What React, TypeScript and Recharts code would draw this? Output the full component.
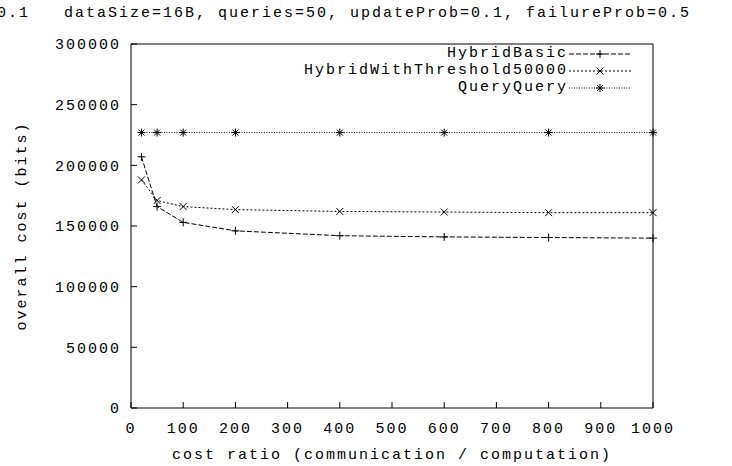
import { LineChart, Line, XAxis, YAxis, Legend } from 'recharts'

const COST_RATIO = [20, 50, 100, 200, 400, 600, 800, 1000]
const HYBRID_BASIC = [207000, 166000, 153000, 146000, 142000, 141000, 140500, 140000]
const HYBRID_THRESHOLD = [188000, 171000, 166000, 163500, 162000, 161500, 161000, 161000]
const QUERY_QUERY = [227000, 227000, 227000, 227000, 227000, 227000, 227000, 227000]

const X_TICKS = [0, 100, 200, 300, 400, 500, 600, 700, 800, 900, 1000]
const Y_TICKS = [0, 50000, 100000, 150000, 200000, 250000, 300000]

const DATA = COST_RATIO.map((x, i) => ({
  x,
  basic: HYBRID_BASIC[i],
  threshold: HYBRID_THRESHOLD[i],
  query: QUERY_QUERY[i],
}))

const FONT = '"Liberation Mono", "DejaVu Sans Mono", monospace'
const INK = '#000'
const TEXT = { fontFamily: FONT, fontSize: 15, letterSpacing: 2 }

type P = { cx?: number; cy?: number }

function Plus({ cx = 0, cy = 0 }: P) {
  return <path d={`M${cx - 4},${cy}h8M${cx},${cy - 4}v8`} stroke={INK} strokeWidth={1} fill="none" />
}
function Cross({ cx = 0, cy = 0 }: P) {
  return <path d={`M${cx - 3.5},${cy - 3.5}l7,7M${cx - 3.5},${cy + 3.5}l7,-7`} stroke={INK} strokeWidth={1} fill="none" />
}
function Star({ cx = 0, cy = 0 }: P) {
  return (
    <path
      d={`M${cx - 4},${cy}h8M${cx},${cy - 4}v8M${cx - 3},${cy - 3}l6,6M${cx - 3},${cy + 3}l6,-6`}
      stroke={INK} strokeWidth={1} fill="none"
    />
  )
}

const SERIES = [
  { key: 'basic', name: 'HybridBasic', dash: '5 2', Marker: Plus },
  { key: 'threshold', name: 'HybridWithThreshold50000', dash: '2 2', Marker: Cross },
  { key: 'query', name: 'QueryQuery', dash: '1 1.5', Marker: Star },
]

function renderLegend() {
  return (
    <div style={{ ...TEXT, color: INK }}>
      {SERIES.map(s => (
        <div key={s.key} style={{ display: 'flex', justifyContent: 'flex-end', alignItems: 'center', height: 17 }}>
          <span>{s.name}</span>
          <svg width={64} height={12} style={{ display: 'block' }}>
            <line x1={1} x2={63} y1={6} y2={6} stroke={INK} strokeDasharray={s.dash} />
            <s.Marker cx={32} cy={6} />
          </svg>
        </div>
      ))}
    </div>
  )
}

export default function App() {
  return (
    <div style={{ position: 'absolute', left: 0, top: 0, width: 732, height: 466, background: '#fff', overflow: 'hidden' }}>
      <div style={{ ...TEXT, position: 'absolute', top: 5, right: 702, lineHeight: '17px', whiteSpace: 'pre' }}>0.1</div>
      <div style={{ ...TEXT, position: 'absolute', top: 5, left: 64, lineHeight: '17px', whiteSpace: 'pre' }}>
        dataSize=16B, queries=50, updateProb=0.1, failureProb=0.5
      </div>
      <LineChart width={732} height={466} data={DATA} margin={{ top: 43, right: 78, left: 0, bottom: 0 }}>
        <XAxis
          xAxisId="b" dataKey="x" type="number" domain={[0, 1000]} ticks={X_TICKS}
          height={58} tickSize={-6} tickMargin={20}
          axisLine={{ stroke: INK }} tickLine={{ stroke: INK }}
          tick={{ ...TEXT, fill: INK }}
          label={{ value: 'cost ratio (communication / computation)', position: 'insideBottom', offset: 7, fill: INK, style: TEXT }}
        />
        <XAxis
          xAxisId="t" orientation="top" type="number" domain={[0, 1000]} ticks={X_TICKS}
          height={1} tickSize={-6} tick={false}
          axisLine={{ stroke: INK }} tickLine={{ stroke: INK }}
        />
        <YAxis
          yAxisId="l" type="number" domain={[0, 300000]} ticks={Y_TICKS}
          width={131} tickSize={-6} tickMargin={16}
          axisLine={{ stroke: INK }} tickLine={{ stroke: INK }}
          tick={{ ...TEXT, fill: INK }}
          label={{ value: 'overall cost (bits)', angle: -90, position: 'insideLeft', offset: 21, fill: INK, style: { ...TEXT, textAnchor: 'middle' } }}
        />
        <YAxis
          yAxisId="r" orientation="right" type="number" domain={[0, 300000]} ticks={Y_TICKS}
          width={1} tickSize={-6} tick={false}
          axisLine={{ stroke: INK }} tickLine={{ stroke: INK }}
        />
        <Legend
          content={renderLegend}
          layout="horizontal" verticalAlign="middle" align="center"
          wrapperStyle={{ position: 'absolute', top: 45, left: 232, width: 400, margin: 0 }}
        />
        {SERIES.map(s => (
          <Line
            key={s.key}
            xAxisId="b" yAxisId="l"
            dataKey={s.key} name={s.name}
            type="linear"
            stroke={INK} strokeWidth={1} strokeDasharray={s.dash}
            dot={(p: any) => <s.Marker key={p.index} cx={p.cx} cy={p.cy} />}
            activeDot={false}
            isAnimationActive={false}
          />
        ))}
      </LineChart>
    </div>
  )
}
